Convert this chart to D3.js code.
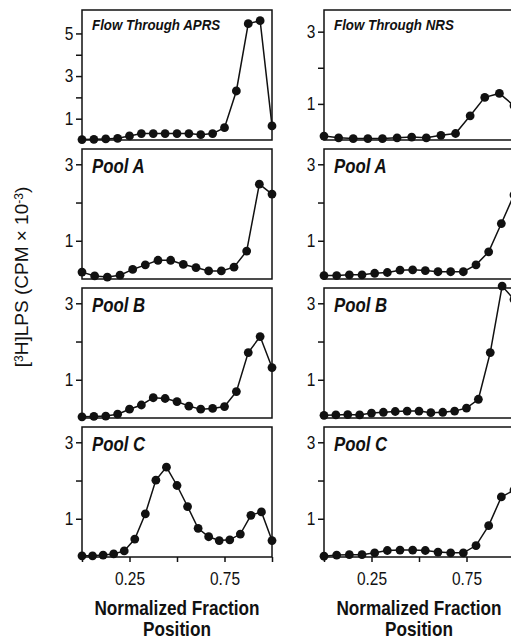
<!DOCTYPE html>
<html>
<head>
<meta charset="utf-8">
<script src="https://cdn.jsdelivr.net/npm/d3@7"></script>
<style>
  body { margin: 0; background: #fff; }
  svg { display: block; }
  text { font-family: "Liberation Sans", Arial, sans-serif; fill: #111; }
</style>
</head>
<body>
<svg id="chart"></svg>
<script>
// fractions are evenly spaced from 0 to 1 in every run, only the count differs
const aprsTitles = ['Flow Through APRS', 'Pool A', 'Pool B', 'Pool C'];
const nrsTitles = ['Flow Through NRS', 'Pool A', 'Pool B', 'Pool C'];

const aprsFlow = [0.02, 0.03, 0.05, 0.08, 0.19, 0.3, 0.3, 0.3, 0.3, 0.3, 0.25, 0.3, 0.58, 2.3, 5.46, 5.6, 0.66];
const aprsPoolA = [0.18, 0.08, 0.05, 0.1, 0.25, 0.37, 0.49, 0.49, 0.38, 0.3, 0.21, 0.21, 0.31, 0.73, 2.48, 2.22];
const aprsPoolB = [0.03, 0.04, 0.05, 0.1, 0.23, 0.34, 0.53, 0.51, 0.43, 0.31, 0.23, 0.25, 0.3, 0.69, 1.71, 2.13, 1.32];
const aprsPoolC = [0.03, 0.03, 0.05, 0.08, 0.16, 0.47, 1.13, 2.01, 2.35, 1.87, 1.32, 0.75, 0.53, 0.43, 0.45, 0.6, 1.09, 1.18, 0.43];

const nrsFlow = [0.11, 0.06, 0.04, 0.04, 0.04, 0.06, 0.08, 0.06, 0.13, 0.18, 0.67, 1.18, 1.29, 0.95];
const nrsPoolA = [0.09, 0.09, 0.11, 0.11, 0.15, 0.17, 0.23, 0.24, 0.22, 0.19, 0.19, 0.19, 0.37, 0.71, 1.45, 2.2];
const nrsPoolB = [0.07, 0.08, 0.09, 0.08, 0.13, 0.15, 0.17, 0.18, 0.18, 0.14, 0.15, 0.18, 0.26, 0.49, 1.71, 3.45, 3.1];
const nrsPoolC = [0.02, 0.05, 0.06, 0.06, 0.11, 0.17, 0.18, 0.18, 0.17, 0.13, 0.11, 0.11, 0.3, 0.82, 1.57, 1.75];

const aprsYMax = [6.1, 3.4, 3.4, 3.4];
const nrsYMax = [3.6, 3.4, 3.4, 3.4];
const topTicks = [1, 2, 3, 4, 5];
const poolTicks = [1, 2, 3];
const xTicks = [0, 0.25, 0.5, 0.75, 1];
const xTickLabels = [0.25, 0.75];

const columns = [
  { titles: aprsTitles, series: [aprsFlow, aprsPoolA, aprsPoolB, aprsPoolC], yMax: aprsYMax },
  { titles: nrsTitles, series: [nrsFlow, nrsPoolA, nrsPoolB, nrsPoolC], yMax: nrsYMax }
];

const colX = [82, 324];
const rowY = [10, 149, 288, 427];
const panelW = 190;
const panelH = 130;
const squeeze = 0.86; // the original type is a condensed face

const svg = d3.select('#chart')
    .attr('width', 511)
    .attr('height', 640);

columns.forEach((col, c) => {
  col.series.forEach((vals, r) => {
    const g = svg.append('g')
        .attr('transform', 'translate(' + colX[c] + ',' + rowY[r] + ')');

    const x = d3.scaleLinear().domain([0, 1]).range([0, panelW]);
    const y = d3.scaleLinear().domain([0, col.yMax[r]]).range([panelH, 0]);
    const pts = vals.map((v, i) => ({ x: i / (vals.length - 1), v: v }));

    g.append('rect')
        .attr('width', panelW)
        .attr('height', panelH)
        .attr('fill', 'none')
        .attr('stroke', '#111')
        .attr('stroke-width', 1.5);

    const yAxis = d3.axisLeft(y)
        .tickValues(r === 0 && c === 0 ? topTicks : poolTicks)
        .tickFormat(d => d % 2 === 1 ? d : '')
        .tickSize(6)
        .tickSizeOuter(0)
        .tickPadding(4);

    const ya = g.append('g').call(yAxis);
    ya.select('.domain').remove();
    ya.selectAll('line').attr('stroke', '#111').attr('stroke-width', 1.5);
    ya.selectAll('text')
        .style('font-size', '18px')
        .attr('transform', 'scale(' + squeeze + ',1)');

    if (r === 3) {
      const xAxis = d3.axisBottom(x)
          .tickValues(xTicks)
          .tickFormat(d => xTickLabels.includes(d) ? d : '')
          .tickSize(5)
          .tickSizeOuter(0)
          .tickPadding(10);
      const xa = g.append('g')
          .attr('transform', 'translate(0,' + panelH + ')')
          .call(xAxis);
      xa.select('.domain').remove();
      xa.selectAll('line').attr('stroke', '#111').attr('stroke-width', 1.5);
      xa.selectAll('text')
          .style('font-size', '18px')
          .attr('transform', 'scale(' + squeeze + ',1)');

      g.append('text')
          .attr('transform', 'translate(' + panelW / 2 + ',' + (panelH + 58) + ') scale(' + squeeze + ',1)')
          .attr('text-anchor', 'middle')
          .style('font-size', '20px')
          .style('font-weight', 'bold')
          .text('Normalized Fraction');
      g.append('text')
          .attr('transform', 'translate(' + panelW / 2 + ',' + (panelH + 79) + ') scale(' + squeeze + ',1)')
          .attr('text-anchor', 'middle')
          .style('font-size', '20px')
          .style('font-weight', 'bold')
          .text('Position');
    }

    const line = d3.line()
        .x(d => x(d.x))
        .y(d => y(d.v));

    g.append('path')
        .datum(pts)
        .attr('d', line)
        .attr('fill', 'none')
        .attr('stroke', '#111')
        .attr('stroke-width', 1.5);

    g.selectAll('circle')
        .data(pts)
      .enter().append('circle')
        .attr('cx', d => x(d.x))
        .attr('cy', d => y(d.v))
        .attr('r', 4.4)
        .attr('fill', '#111');

    const small = r === 0;
    g.append('text')
        .attr('transform', 'translate(10,' + (small ? 20 : 24) + ') scale(' + (small ? squeeze : 0.84) + ',1)')
        .style('font-size', small ? '15.5px' : '20px')
        .style('font-weight', 'bold')
        .style('font-style', 'italic')
        .text(col.titles[r]);
  });
});

// shared y title
const yTitle = svg.append('text')
    .attr('transform', 'translate(28,277) rotate(-90)')
    .attr('text-anchor', 'middle')
    .style('font-size', '19px');
yTitle.append('tspan').text('[');
yTitle.append('tspan').attr('baseline-shift', '40%').style('font-size', '12px').text('3');
yTitle.append('tspan').text('H]LPS (CPM × 10');
yTitle.append('tspan').attr('baseline-shift', '40%').style('font-size', '12px').text('-3');
yTitle.append('tspan').text(')');
</script>
</body>
</html>
